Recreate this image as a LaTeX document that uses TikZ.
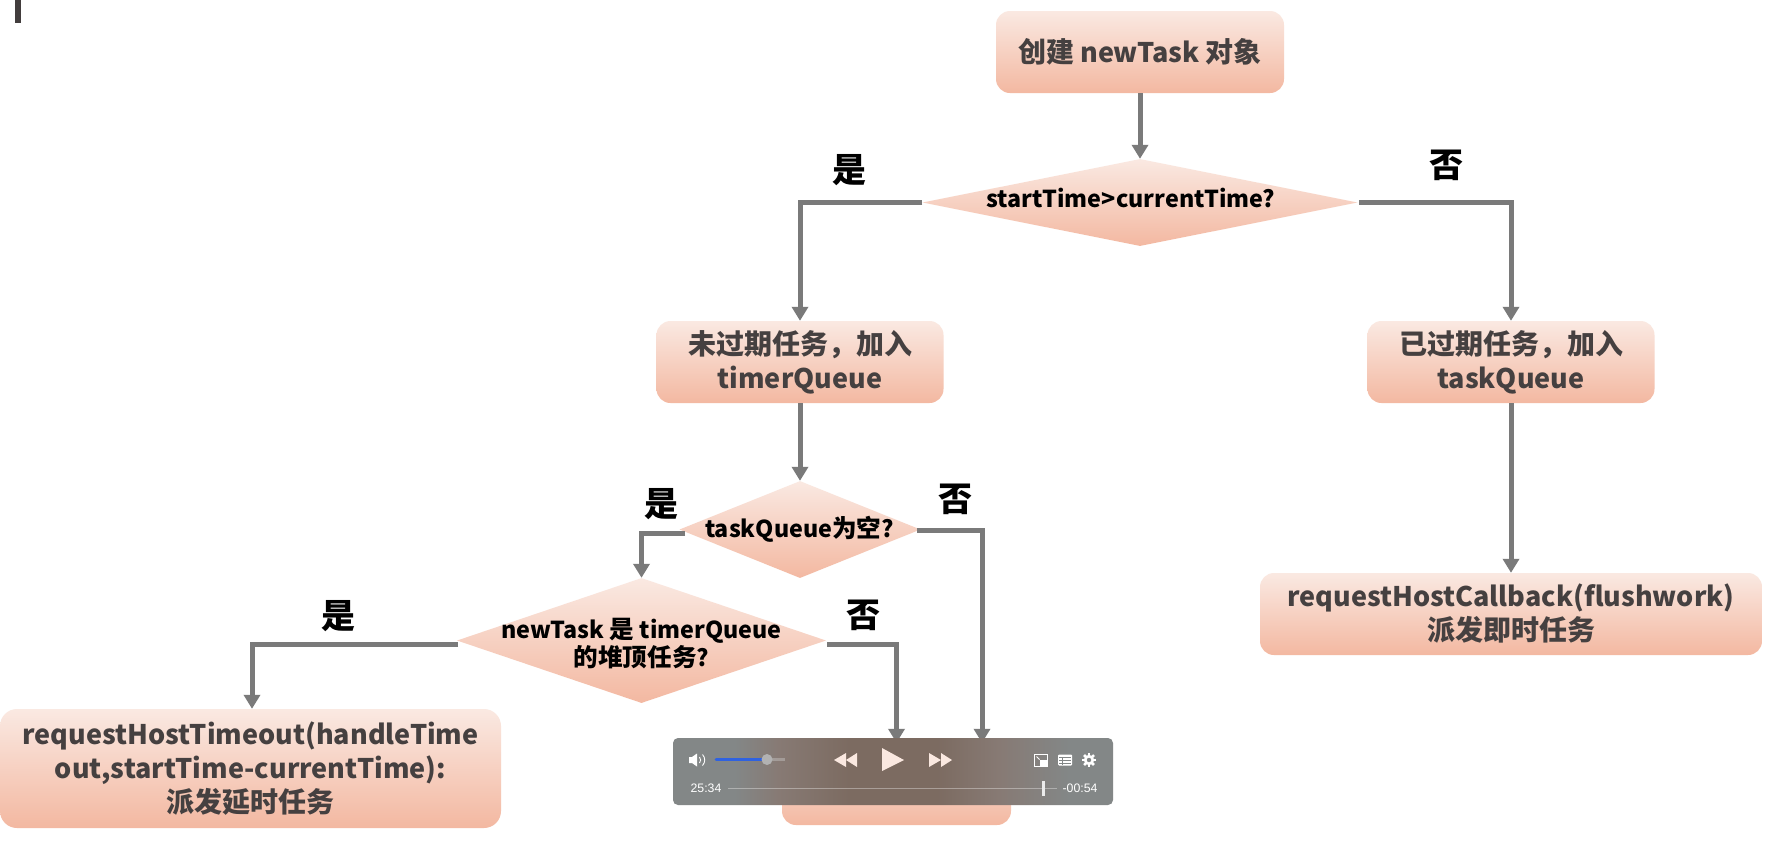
\documentclass[tikz,border=0pt]{standalone}
\usepackage{fontspec}
\setmainfont{Noto Sans CJK SC}
\newfontfamily\playerfont{Liberation Sans}
\usetikzlibrary{shapes.geometric,arrows.meta}
\definecolor{gtop}{HTML}{FAE9E2}
\definecolor{gbot}{HTML}{F3B8A1}
\definecolor{ink}{HTML}{454040}
\definecolor{conn}{HTML}{7A7A7A}
\definecolor{plg}{HTML}{838787}
\definecolor{plb}{HTML}{7C6B61}
\definecolor{plm}{HTML}{877A74}
\definecolor{icon}{HTML}{FAE8E0}
\definecolor{slider}{HTML}{2F62E0}
\pgfdeclarehorizontalshading{playershade}{100bp}{color(0bp)=(plg);color(32bp)=(plg);color(37bp)=(plm);color(45bp)=(plb);color(55bp)=(plb);color(62bp)=(plm);color(70bp)=(plg);color(100bp)=(plg)}
\newcommand{\zh}[1]{{\fontsize{28}{34}\selectfont #1}}
\newcommand{\zhs}[1]{{\fontsize{24.6}{28}\selectfont #1}}
\tikzset{
  x=1pt,y=-1pt,
  flowbox/.style={rectangle,rounded corners=14pt,top color=gtop,bottom color=gbot,draw=none,inner sep=0pt,align=center,text=ink,font=\fontsize{27}{34}\selectfont\bfseries},
  decide/.style={diamond,top color=gtop,bottom color=gbot,draw=none,inner sep=0pt},
  decidetext/.style={align=center,text=black,font=\fontsize{23.3}{28}\selectfont\bfseries,inner sep=0pt},
  conn/.style={draw=conn,line width=5pt,-{Triangle[width=16pt,length=14pt]}},
  answer/.style={text=black,font=\fontsize{34}{34}\selectfont\bfseries,inner sep=0pt},
  ptime/.style={text=white,inner sep=0pt,font=\fontsize{12.3}{14}\playerfont\selectfont},
}
\begin{document}
\begin{tikzpicture}
\useasboundingbox (0,0) rectangle (1774,847);
\fill[white] (0,0) rectangle (1774,847);
\fill[ink!95!black] (15,0) rectangle (21,23);

% boxes
\node[flowbox,minimum width=288pt,minimum height=82pt] (start) at (1140,52) {\raisebox{3pt}{\zh{创建} newTask \zh{对象}}};
\node[flowbox,minimum width=287pt,minimum height=82pt] (b2) at (800,362) {\zh{未过期任务，加入}\\timerQueue};
\node[flowbox,minimum width=287pt,minimum height=82pt] (b3) at (1511,362) {\zh{已过期任务，加入}\\taskQueue};
\node[flowbox,minimum width=502pt,minimum height=82pt] (b4) at (1511,614) {requestHostCallback(flushwork)\\\zh{派发即时任务}};
\node[flowbox,rounded corners=17pt,minimum width=501pt,minimum height=119pt] (b5) at (250.5,768.5) {requestHostTimeout(handleTime\\out,startTime-currentTime):\\\zh{派发延时任务}};
\node[flowbox,minimum width=229pt,minimum height=82pt] (b6) at (896.5,784) {};

% decisions
\node[decide,minimum width=435pt,minimum height=87pt] (d1) at (1140,202.5) {};
\node[decidetext] (d1t) at (1131,198) {startTime>currentTime?};
\node[decide,minimum width=241pt,minimum height=97pt] (d2) at (800,529.5) {};
\node[decidetext] (d2t) at (799.5,529) {taskQueue\zhs{为空}?};
\node[decide,minimum width=369pt,minimum height=125pt] (d3) at (641.5,640.5) {};
\node[decidetext] (d3t) at (641.5,644) {newTask \zhs{是} timerQueue\\\zhs{的堆顶任务}?};

% connectors
\coordinate (d2l) at (685,533);
\coordinate (d2r) at (917,530);
\coordinate (d1r) at (1359,202.5);
\coordinate (d3l) at (458,644);
\coordinate (d3r) at (827,644);
\draw[conn] (start.south) -- (d1.north);
\draw[conn] (d1.west) -| (b2.north);
\draw[conn] (d1r) -| (b3.north);
\draw[conn] (b2.south) -- (d2.north);
\draw[conn] (b3.south) -- (b4.north);
\draw[conn] (d2l) -| (d3.north);
\draw[conn] (d2r) -| (b6.north -| 982,0);
\draw[conn] (d3l) -| (b5.north -| 252,0);
\draw[conn] (d3r) -| (b6.north);

% answers
\node[answer] (a1) at (849,170) {是};
\node[answer] (a2) at (1446,165) {否};
\node[answer] (a3) at (661,504) {是};
\node[answer] (a4) at (955,499) {否};
\node[answer] (a5) at (338,616) {是};
\node[answer] (a6) at (863,615) {否};

% player
\shade[shading=playershade,rounded corners=5pt] (673,738) rectangle (1113,805);
% speaker
\fill[white] (689,757) -- (692,757) -- (697,753.5) -- (697,766.5) -- (692,763) -- (689,763) -- cycle;
\draw[white,line width=.9pt] (699.5,757) .. controls (701,759) and (701,761) .. (699.5,763);
\draw[white,line width=.9pt] (702.5,754.5) .. controls (705.5,758) and (705.5,762) .. (702.5,765.5);
% volume
\draw[white!70!plg,line width=2.5pt,opacity=.35] (767,759.5) -- (785,759.5);
\draw[slider,line width=3pt,line cap=round] (716,759.5) -- (767,759.5);
\fill[gray!60] (767,759.5) circle (5.5pt);
% rewind
\fill[icon] (857,753) -- (857,767) -- (846,760) -- cycle;
\fill[icon] (846,753) -- (846,767) -- (834,760) -- cycle;
% play
\fill[icon] (882,748) -- (882,771) -- (904,760) -- cycle;
% forward
\fill[icon] (929,753) -- (929,767) -- (941,760) -- cycle;
\fill[icon] (941,753) -- (941,767) -- (952,760) -- cycle;
% pip
\draw[white,line width=.9pt] (1034.5,754.5) rectangle (1047.5,766);
\fill[white] (1040,760) rectangle (1048,766.5);
\draw[white,line width=.8pt] (1036.5,756.5) -- (1039.5,759.5);
% list
\fill[white,rounded corners=1pt] (1058,754.5) rectangle (1072,765.5);
\foreach \yy in {757.8,760.6,763.2} \draw[plg,line width=.7pt] (1059,\yy) -- (1071,\yy);
\draw[plg,line width=.7pt] (1062,757) -- (1062,765);
% gear
\foreach \aa in {0,45,...,315} \draw[white,line width=2.5pt] (1089,760) -- ++(\aa:7pt);
\fill[white] (1089,760) circle (5.2pt);
\fill[plg] (1089,760) circle (2.2pt);
% time line
\node[ptime] (t1) at (706,788) {25:34};
\node[ptime] (t2) at (1080,788) {-00:54};
\draw[white,opacity=.35,line width=.7pt] (728,788) -- (1057,788);
\fill[white!85!gray] (1041.5,781) rectangle (1044.5,796);
\end{tikzpicture}
\end{document}
